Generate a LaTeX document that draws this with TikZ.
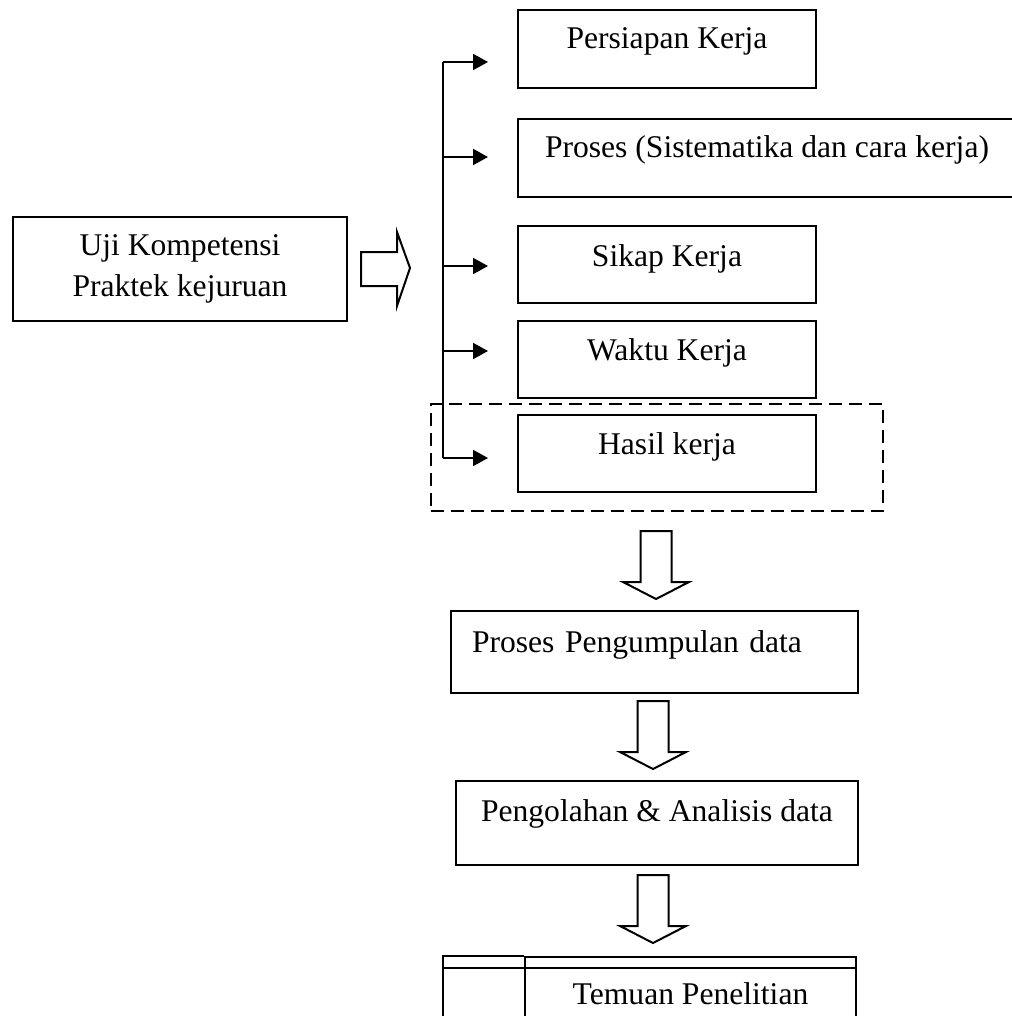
\documentclass[tikz,border=0pt]{standalone}
\usepackage{fontspec}
\setmainfont{Liberation Serif}
\usetikzlibrary{arrows.meta}

\newcommand{\diagfont}{\fontsize{31.6}{41}\selectfont}

\tikzset{
    box/.style={draw, line width=2pt, anchor=north west, inner sep=0pt, font=\diagfont},
    groupbox/.style={draw, line width=2pt, dash pattern=on 13pt off 7pt, anchor=north west, inner sep=0pt},
    branch/.style={line width=2pt, -{Triangle[length=15pt,width=16pt]}, shorten >=29pt},
    hollow/.style={draw, line width=2pt, line join=miter, fill=white}
}

\begin{document}
\begin{tikzpicture}[x=1pt, y=-1pt]
    \useasboundingbox (0,0) rectangle (1011,1016);
    \fill[white] (0,0) rectangle (1011,1016);

    % kiri
    \node[box, minimum width=334pt, minimum height=104pt, align=center] (uji) at (12,216)
        {Uji Kompetensi\\Praktek kejuruan};
    \draw[hollow] (361,252) -- (397,252) -- (397,232) -- (410,268) -- (397,306) -- (397,286) -- (361,286) -- cycle;

    % aspek penilaian
    \node[box, minimum width=298pt, text height=39pt, text depth=39pt] (persiapan) at (517,9) {Persiapan Kerja};
    \node[box, minimum width=498pt, text height=39pt, text depth=39pt] (proses) at (517,118) {Proses (Sistematika dan cara kerja)};
    \node[box, minimum width=298pt, text height=40pt, text depth=37pt] (sikap) at (517,225) {Sikap Kerja};
    \node[box, minimum width=298pt, text height=39pt, text depth=38pt] (waktu) at (517,320) {Waktu Kerja};
    \node[box, minimum width=298pt, text height=39pt, text depth=38pt] (hasil) at (517,414) {Hasil kerja};
    \node[groupbox, minimum width=452pt, minimum height=107pt] (hasilgroup) at (430,403) {};

    \coordinate (b1) at (443,62);
    \coordinate (b2) at (443,157);
    \coordinate (b3) at (443,266);
    \coordinate (b4) at (443,351);
    \coordinate (b5) at (443,458);
    \draw[line width=2pt] (b1) -- (b5);
    \foreach \b/\t in {b1/persiapan, b2/proses, b3/sikap, b4/waktu, b5/hasil} {
        \draw[branch] (\b) -- (\b -| \t.west);
    }

    % alur data
    \node[box, minimum width=407pt, text width=365pt, inner xsep=21pt, align=left,
          text height=41pt, text depth=41pt] (pengumpulan) at (450,610) {Proses Pengumpulan data};
    \node[box, minimum width=402pt, text height=40pt, text depth=44pt] (pengolahan) at (455,780) {Pengolahan \& Analisis data};
    \node[box, minimum width=331pt, text height=47pt, text depth=40pt] (temuan) at (524,956) {Temuan Penelitian};
    \draw[line width=2pt] (temuan.north west) -- (443,956) -- (443,1040);
    \draw[line width=2pt] (443,968) -- (temuan.east |- 0,968);

    \foreach \cx/\ty in {656/531, 653/701, 653/875} {
        \draw[hollow] (\cx-15.5,\ty) -- (\cx+15.5,\ty) -- (\cx+15.5,\ty+51) -- (\cx+33,\ty+51)
            -- (\cx,\ty+68) -- (\cx-33,\ty+51) -- (\cx-15.5,\ty+51) -- cycle;
    }
\end{tikzpicture}
\end{document}
